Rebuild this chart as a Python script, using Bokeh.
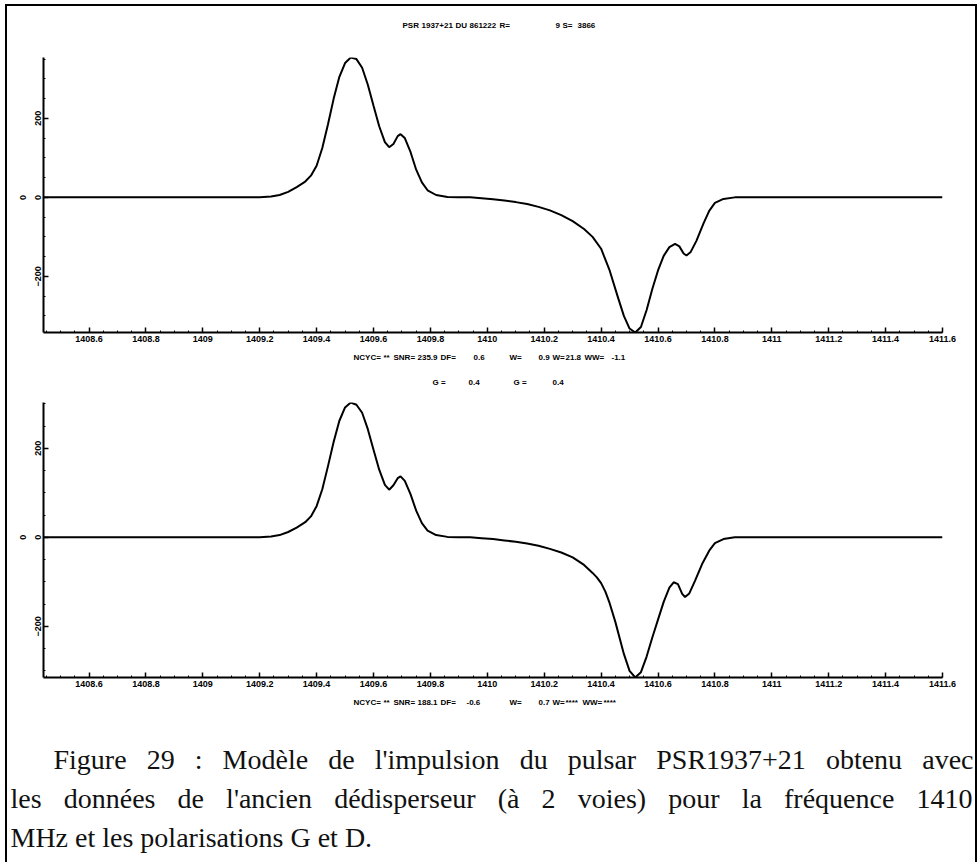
from bokeh.plotting import figure
from bokeh.layouts import column
from bokeh.models import Range1d, FixedTicker, CustomJSTickFormatter, LinearAxis
from bokeh.embed import file_html
from bokeh.resources import INLINE
from bokeh.core.properties import value

# ---------------------------------------------------------------- data
# Pulse model, polarisation G (upper panel): frequency (MHz) / amplitude
freq_g = [1408.44, 1409.20, 1409.24, 1409.27, 1409.30, 1409.33, 1409.36, 1409.38,
          1409.40, 1409.42, 1409.44, 1409.46, 1409.48, 1409.50, 1409.52, 1409.54,
          1409.56, 1409.58, 1409.60, 1409.62, 1409.64, 1409.655, 1409.67, 1409.685,
          1409.695, 1409.71, 1409.73, 1409.75, 1409.77, 1409.79, 1409.82, 1409.86,
          1409.90, 1409.94, 1409.98, 1410.02, 1410.06, 1410.10, 1410.14, 1410.18,
          1410.22, 1410.26, 1410.30, 1410.34, 1410.37, 1410.40, 1410.43, 1410.46,
          1410.48, 1410.50, 1410.52, 1410.54, 1410.56, 1410.58, 1410.60, 1410.62,
          1410.64, 1410.66, 1410.675, 1410.69, 1410.70, 1410.715, 1410.735, 1410.76,
          1410.78, 1410.80, 1410.83, 1410.87, 1411.60]
amp_g = [0, 0, 2, 6, 14, 26, 40, 55,
         80, 125, 185, 250, 305, 340, 354, 350,
         328, 285, 232, 180, 140, 127, 135, 155,
         160, 150, 115, 70, 38, 18, 6, 1,
         0, 0, -2, -5, -8, -12, -17, -24,
         -33, -45, -60, -80, -100, -130, -185, -255,
         -300, -332, -342, -328, -285, -232, -185, -148,
         -126, -118, -124, -142, -147, -138, -110, -66,
         -34, -14, -4, 0, 0]

# Pulse model, polarisation D (lower panel)
freq_d = [1408.44, 1409.20, 1409.24, 1409.27, 1409.30, 1409.33, 1409.36, 1409.38,
          1409.40, 1409.42, 1409.44, 1409.46, 1409.48, 1409.50, 1409.52, 1409.54,
          1409.56, 1409.58, 1409.60, 1409.62, 1409.64, 1409.655, 1409.67, 1409.685,
          1409.695, 1409.71, 1409.73, 1409.75, 1409.77, 1409.79, 1409.82, 1409.86,
          1409.90, 1409.94, 1409.98, 1410.02, 1410.06, 1410.10, 1410.14, 1410.18,
          1410.22, 1410.26, 1410.30, 1410.34, 1410.37, 1410.385, 1410.40, 1410.415,
          1410.43, 1410.45, 1410.48, 1410.50, 1410.52, 1410.54, 1410.56, 1410.58,
          1410.60, 1410.62, 1410.64, 1410.655, 1410.67, 1410.685, 1410.695, 1410.71,
          1410.73, 1410.755, 1410.78, 1410.80, 1410.83, 1410.87, 1411.60]
amp_d = [0, 0, 2, 5, 12, 22, 34, 47,
         70, 108, 160, 215, 262, 292, 303, 298,
         280, 243, 197, 152, 118, 107, 117, 133,
         137, 127, 97, 60, 32, 15, 5, 1,
         0, 0, -2, -4, -7, -10, -14, -19,
         -26, -34, -45, -62, -80, -90, -103, -122,
         -148, -190, -262, -300, -315, -303, -268, -225,
         -185, -145, -113, -101, -105, -127, -134, -126,
         -98, -60, -30, -13, -4, 0, 0]

X_START, X_END = 1408.44, 1411.6
X_TICKS = [1408.6, 1408.8, 1409.0, 1409.2, 1409.4, 1409.6, 1409.8, 1410.0,
           1410.2, 1410.4, 1410.6, 1410.8, 1411.0, 1411.2, 1411.4, 1411.6]
Y_TICKS = [-200, 0, 200]

TITLE_PARTS = ["PSR", "1937+21", "DU", "861222", "R=", "9", "S=", "3866"]
STATS_G = ["NCYC=", "**", "SNR=", "235.9", "DF=", "0.6", "W=", "0.9", "W=", "21.8",
           "WW=", "-1.1"]
GAINS = ["G =", "0.4", "G =", "0.4"]
STATS_D = ["NCYC=", "**", "SNR=", "188.1", "DF=", "-0.6", "W=", "0.7", "W=", "****",
           "WW=", "****"]

CAPTION = [
    "Figure 29 : Modèle de l'impulsion du pulsar PSR1937+21 obtenu avec",
    "les données de l'ancien dédisperseur (à 2 voies) pour la fréquence 1410",
    "MHz et les polarisations G et D.",
]

# ---------------------------------------------------------------- page geometry
PAGE_W = 968          # inner width of the framed page
OFF_X, OFF_Y = 7, 6   # page offset of the frame's inner corner
PLOT_FONT = "Liberation Sans"
PLOT_FS = "8px"
TICK_FS = "9px"
SERIF = "Liberation Serif"
CAP_FS = 28

# Times-metric advance widths (per 1000 em) for justifying the caption
TNR = {' ': 250, 'a': 444, 'b': 500, 'c': 444, 'd': 500, 'e': 444, 'f': 333, 'g': 500,
       'h': 500, 'i': 278, 'j': 278, 'k': 500, 'l': 278, 'm': 778, 'n': 500, 'o': 500,
       'p': 500, 'q': 500, 'r': 333, 's': 389, 't': 278, 'u': 500, 'v': 500, 'w': 722,
       'x': 500, 'y': 500, 'z': 444, 'é': 444, 'è': 444, 'à': 444, "'": 180, '(': 333,
       ')': 333, ':': 278, '+': 564, '.': 250, 'F': 556, 'M': 889, 'P': 556, 'S': 556,
       'R': 667, 'H': 722, 'G': 722, 'D': 722}


def word_width(w, size):
    return sum(TNR.get(c, 500) for c in w) * size / 1000.0


def no_frame_align(p):
    # keep every canvas' own frame instead of lining frames up across the column
    if "frame_align" in type(p).properties():
        p.frame_align = False


def strip(height):
    s = figure(width=PAGE_W, height=height, x_range=Range1d(0, PAGE_W),
               y_range=Range1d(height, 0), min_border=0, toolbar_location=None,
               output_backend="svg", x_axis_location=None, y_axis_location=None,
               outline_line_color=None)
    s.grid.visible = False
    no_frame_align(s)
    return s


def small_text(s, top, xs, y, parts):
    s.text(x=[x - OFF_X for x in xs], y=[y - top] * len(xs), text=parts,
           text_font=value(PLOT_FONT), text_font_size=PLOT_FS, text_font_style="bold",
           text_color="black", text_baseline="middle", text_align="left")


def style_labels(ax):
    ax.major_label_text_font = PLOT_FONT
    ax.major_label_text_font_size = TICK_FS
    ax.major_label_text_font_style = "bold"
    ax.major_label_text_color = "black"


def pulse_plot(freq, amp, height, top, bottom):
    p = figure(width=PAGE_W, height=height, output_backend="svg", toolbar_location=None,
               x_range=Range1d(X_START, X_END), y_range=Range1d(min(amp), max(amp)),
               min_border_left=36, min_border_right=33, min_border_top=top,
               min_border_bottom=bottom, outline_line_color=None)
    no_frame_align(p)
    p.grid.visible = False
    p.line(freq, amp, line_color="black", line_width=2)

    p.xaxis.ticker = FixedTicker(ticks=X_TICKS,
                                 minor_ticks=[X_TICKS[0] + 0.05 * k - 0.15 for k in range(64)])
    p.xaxis.formatter = CustomJSTickFormatter(code="return String(Math.round(tick * 10) / 10);")
    p.yaxis.ticker = FixedTicker(ticks=Y_TICKS, minor_ticks=[-300, -250, -150, -100, -50,
                                                              50, 100, 150, 250, 300, 350])
    p.yaxis.major_label_orientation = "vertical"

    for ax in (p.xaxis, p.yaxis):
        ax.axis_line_width = 2
        ax.major_tick_in = 5
        ax.major_tick_out = 0
        ax.minor_tick_in = 2
        ax.minor_tick_out = 0
        ax.major_tick_line_width = 1.5
        style_labels(ax)
    p.xaxis.major_label_standoff = 3
    p.yaxis.major_label_standoff = 2

    # outer "0" marker on the zero level, left of the tick labels
    zero = LinearAxis(ticker=FixedTicker(ticks=[0]), axis_line_color=None,
                      major_tick_line_color=None, minor_tick_line_color=None,
                      major_label_orientation="vertical", major_label_standoff=0)
    style_labels(zero)
    p.add_layout(zero, "left")
    return p


# title strip (page y 6..50)
s0 = strip(44)
small_text(s0, OFF_Y, [402, 421, 455, 469, 499, 555, 562, 577], 25, TITLE_PARTS)

# upper panel (page y 50..350)
pa = pulse_plot(freq_g, amp_g, 300, 7, 18)

# statistics + gains strip (page y 350..395)
s1 = strip(45)
small_text(s1, 350, [353, 383, 393, 417, 440, 473, 509, 538, 552, 565, 584, 611],
           357, STATS_G)
small_text(s1, 350, [432, 468, 513, 552], 382, GAINS)

# lower panel (page y 395..695)
pb = pulse_plot(freq_d, amp_d, 300, 7, 18)

# statistics + caption strip (page y 695..862)
s2 = strip(167)
small_text(s2, 695, [353, 383, 393, 417, 440, 466, 509, 538, 552, 565, 582, 603],
           702, STATS_D)

cap_left = [53, 10, 10]
cap_right = [973, 972, None]
cap_base = [759, 798, 837]
for line, x0, x1, yb in zip(CAPTION, cap_left, cap_right, cap_base):
    words = line.split(" ")
    widths = [word_width(w, CAP_FS) for w in words]
    if x1 is None:
        gap = TNR[' '] * CAP_FS / 1000.0
    else:
        gap = (x1 - x0 - sum(widths)) / (len(words) - 1)
    xs, x = [], x0
    for w in widths:
        xs.append(x - OFF_X)
        x += w + gap
    s2.text(x=xs, y=[yb - 695] * len(words), text=words,
            text_font=value(SERIF), text_font_size=f"{CAP_FS}px",
            text_color="#111111", text_baseline="alphabetic", text_align="left")

page = column(s0, pa, s1, pb, s2, spacing=0, margin=(4, 0, 0, 5),
              styles={"border-top": "2px solid black", "border-left": "2px solid black",
                      "border-right": "2px solid black"})

open("out.html", "w").write(file_html(page, INLINE))
